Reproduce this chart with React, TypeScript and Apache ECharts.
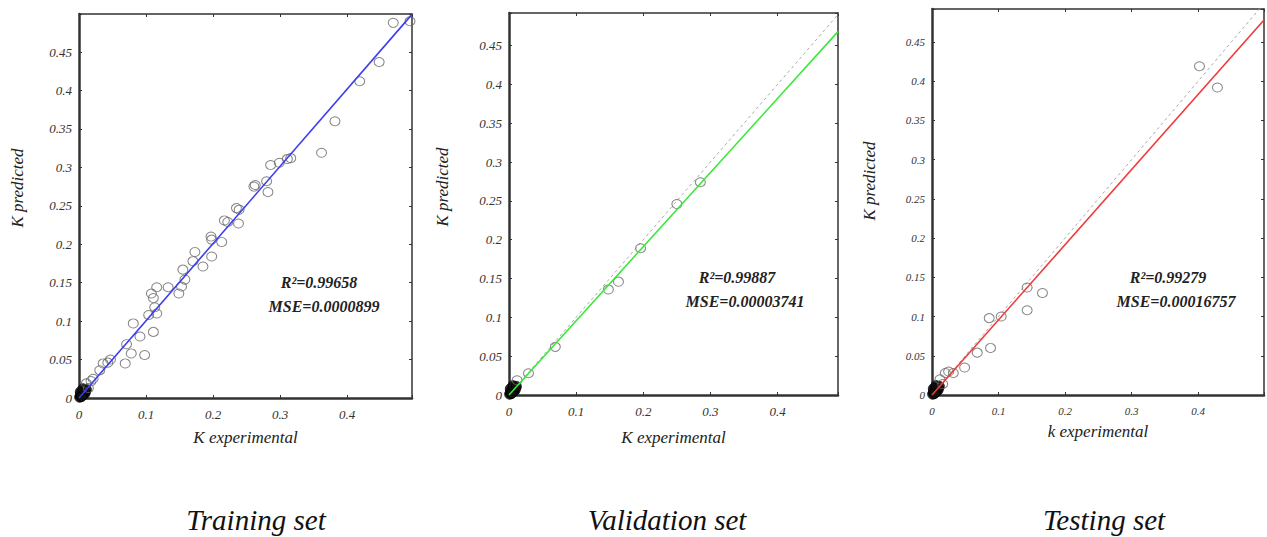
import React, { useEffect, useRef } from "react";
import * as echarts from "echarts";

// ---------- data ----------
const originCluster: number[][] = [
  [0.001, 0.001], [0.002, 0.003], [0.003, 0.002], [0.004, 0.005], [0.005, 0.004],
  [0.006, 0.007], [0.007, 0.005], [0.008, 0.008], [0.003, 0.006], [0.005, 0.009],
  [0.009, 0.006], [0.002, 0.008], [0.007, 0.010], [0.010, 0.009], [0.004, 0.002],
  [0.006, 0.012], [0.011, 0.011],
];

const trainPoints: number[][] = [
  [0.469, 0.488], [0.494, 0.49], [0.448, 0.437], [0.419, 0.412], [0.382, 0.36],
  [0.362, 0.319], [0.316, 0.312], [0.311, 0.311], [0.299, 0.306], [0.286, 0.303],
  [0.282, 0.268], [0.28, 0.282], [0.263, 0.277], [0.261, 0.275], [0.239, 0.245],
  [0.235, 0.247], [0.238, 0.227], [0.222, 0.229], [0.217, 0.231], [0.213, 0.203],
  [0.197, 0.21], [0.198, 0.206], [0.198, 0.184], [0.185, 0.171], [0.173, 0.19],
  [0.17, 0.178], [0.155, 0.167], [0.158, 0.154], [0.153, 0.145], [0.149, 0.136],
  [0.133, 0.144], [0.116, 0.144], [0.108, 0.136], [0.111, 0.13], [0.113, 0.118],
  [0.116, 0.11], [0.104, 0.108], [0.111, 0.086], [0.081, 0.097], [0.091, 0.08],
  [0.078, 0.058], [0.098, 0.056], [0.071, 0.07], [0.069, 0.045], [0.047, 0.05],
  [0.043, 0.046], [0.036, 0.045], [0.031, 0.036], [0.021, 0.025], [0.018, 0.022],
  [0.011, 0.019], [0.014, 0.013],
];

const validPoints: number[][] = [
  [0.285, 0.274], [0.25, 0.246], [0.196, 0.189], [0.163, 0.146], [0.148, 0.136],
  [0.069, 0.062], [0.029, 0.028], [0.012, 0.019],
];

const testPoints: number[][] = [
  [0.402, 0.419], [0.429, 0.392], [0.166, 0.13], [0.143, 0.137], [0.143, 0.108],
  [0.104, 0.1], [0.086, 0.098], [0.088, 0.06], [0.068, 0.054], [0.049, 0.035],
  [0.032, 0.028], [0.025, 0.03], [0.02, 0.028], [0.012, 0.02], [0.016, 0.014],
];

const trainFit: number[][] = [[0, 0], [0.497, 0.499]];
const validFit: number[][] = [[0, 0], [0.49, 0.468]];
const testFit: number[][] = [[0, 0], [0.499, 0.478]];
const identity: number[][] = [[0, 0], [0.5, 0.5]];

const xTickStep = 0.1;
const yTickStep = 0.05;

const panelTitles = ["Training set", "Validation set", "Testing set"];
const xNames = ["K experimental", "K experimental", "k experimental"];
const yName = "K predicted";
const r2Texts = ["R²=0.99658", "R²=0.99887", "R²=0.99279"];
const mseTexts = ["MSE=0.0000899", "MSE=0.00003741", "MSE=0.00016757"];

// ---------- layout ----------
const panels = [
  { left: 79, top: 14, width: 333, height: 384, xMax: 0.497, yMax: 0.4995, fit: trainFit, pts: trainPoints, color: "#3c3cf0", font: 13, xGap: 31, yNameX: 17, yNameY: 188, showId: false, titleX: 256, r2X: 319, mseX: 324, annY: 282 },
  { left: 509, top: 13, width: 329, height: 382, xMax: 0.49, yMax: 0.492, fit: validFit, pts: validPoints, color: "#3ae83a", font: 13, xGap: 34, yNameX: 442, yNameY: 187, showId: true, titleX: 667, r2X: 737, mseX: 745, annY: 277 },
  { left: 932, top: 9, width: 333, height: 386, xMax: 0.499, yMax: 0.492, fit: testFit, pts: testPoints, color: "#f03a3a", font: 11, xGap: 28, yNameX: 869, yNameY: 181, showId: true, titleX: 1104, r2X: 1168, mseX: 1176, annY: 277 },
];

const SERIF = "'Liberation Serif', 'DejaVu Serif', serif";

function fmt(step: number) {
  return (v: number) => {
    const r = Math.round(v / step);
    if (Math.abs(r * step - v) > 1e-6) return "";
    return String(parseFloat(v.toFixed(2)));
  };
}

export default function App() {
  const ref = useRef<HTMLDivElement>(null);
  useEffect(() => {
    document.body.style.margin = "0";
    const chart = echarts.init(ref.current!, undefined, { renderer: "svg" });
    const grid: any[] = [];
    const xAxis: any[] = [];
    const yAxis: any[] = [];
    const series: any[] = [];
    const graphic: any[] = [];
    panels.forEach((p, i) => {
      grid.push({ left: p.left, top: p.top, width: p.width, height: p.height, containLabel: false });
      const labelStyle = { fontFamily: SERIF, fontStyle: "italic", color: "#333", fontSize: p.font };
      xAxis.push({
        type: "value", gridIndex: i, min: 0, max: p.xMax, interval: xTickStep, position: "bottom",
        name: xNames[i], nameLocation: "middle", nameGap: p.xGap,
        nameTextStyle: { fontFamily: SERIF, fontStyle: "italic", fontSize: 17, color: "#222" },
        axisLine: { show: true, onZero: false, lineStyle: { color: "#333", width: 2.5 } },
        axisTick: { show: true, inside: true, length: 3, lineStyle: { color: "#333" } },
        axisLabel: { ...labelStyle, margin: 10, formatter: fmt(xTickStep) },
        splitLine: { show: false },
      });
      xAxis.push({
        type: "value", gridIndex: i, min: 0, max: p.xMax, interval: xTickStep, position: "top",
        axisLine: { show: true, onZero: false, lineStyle: { color: "#333", width: 1.5 } },
        axisTick: { show: true, inside: true, length: 3, lineStyle: { color: "#333" } },
        axisLabel: { show: false }, splitLine: { show: false },
      });
      yAxis.push({
        type: "value", gridIndex: i, min: 0, max: p.yMax, interval: yTickStep, position: "left",
        axisLine: { show: true, onZero: false, lineStyle: { color: "#333", width: 2.5 } },
        axisTick: { show: true, inside: true, length: 3, lineStyle: { color: "#333" } },
        axisLabel: { ...labelStyle, margin: 7, formatter: fmt(yTickStep) },
        splitLine: { show: false },
      });
      yAxis.push({
        type: "value", gridIndex: i, min: 0, max: p.yMax, interval: yTickStep, position: "right",
        axisLine: { show: true, onZero: false, lineStyle: { color: "#333", width: 1.5 } },
        axisTick: { show: true, inside: true, length: 3, lineStyle: { color: "#333" } },
        axisLabel: { show: false }, splitLine: { show: false },
      });
      const xi = i * 2;
      const yi = i * 2;
      if (p.showId) {
        series.push({
          type: "line", xAxisIndex: xi, yAxisIndex: yi, data: identity, symbol: "none", clip: true,
          lineStyle: { color: "#aaa", width: 1, type: [3, 3] }, z: 1,
        });
      }
      series.push({
        type: "scatter", xAxisIndex: xi, yAxisIndex: yi, data: originCluster, symbol: "circle",
        symbolSize: 10, itemStyle: { color: "#111", borderColor: "#000", borderWidth: 1 }, z: 2,
      });
      series.push({
        type: "scatter", xAxisIndex: xi, yAxisIndex: yi, data: p.pts, symbol: "circle",
        symbolSize: [10, 9], itemStyle: { color: "rgba(0,0,0,0)", borderColor: "#666", borderWidth: 1 }, z: 3,
      });
      series.push({
        type: "line", xAxisIndex: xi, yAxisIndex: yi, data: p.fit, symbol: "none", clip: true,
        lineStyle: { color: p.color, width: 1.6 }, z: 4,
      });
      graphic.push({
        type: "text", x: p.yNameX, y: p.yNameY, rotation: Math.PI / 2,
        style: { text: yName, font: `italic 17px ${SERIF}`, fill: "#222", align: "center", verticalAlign: "middle" },
      });
      graphic.push({
        type: "text", x: p.titleX, y: 520,
        style: { text: panelTitles[i], font: `italic 29px ${SERIF}`, fill: "#111", align: "center", verticalAlign: "middle" },
      });
      graphic.push({
        type: "text", x: p.r2X, y: p.annY,
        style: { text: r2Texts[i], font: `italic bold 16px ${SERIF}`, fill: "#222", align: "center", verticalAlign: "middle" },
      });
      graphic.push({
        type: "text", x: p.mseX, y: p.annY + 24,
        style: { text: mseTexts[i], font: `italic bold 16px ${SERIF}`, fill: "#222", align: "center", verticalAlign: "middle" },
      });
    });
    chart.setOption({
      animation: false,
      backgroundColor: "#fff",
      grid, xAxis, yAxis, series, graphic,
    });
    return () => chart.dispose();
  }, []);
  return <div ref={ref} style={{ position: "fixed", left: 0, top: 0, width: 1267, height: 537 }} />;
}
